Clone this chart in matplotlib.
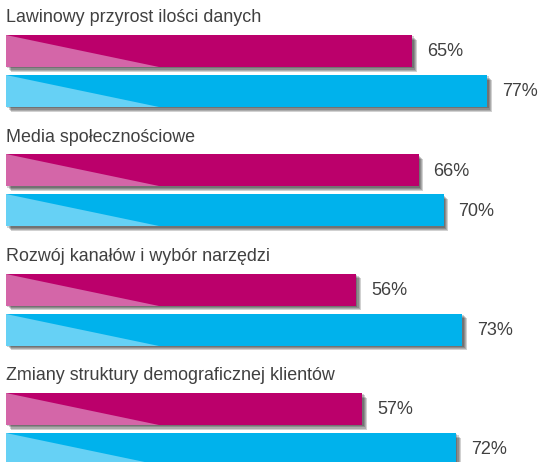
import matplotlib
matplotlib.use("Agg")
import matplotlib.pyplot as plt
import matplotlib.patheffects as pe
from matplotlib.patches import Polygon

# data
categories = ['Lawinowy przyrost ilości danych',
              'Media społecznościowe',
              'Rozwój kanałów i wybór narzędzi',
              'Zmiany struktury demograficznej klientów']
series_a = [65, 66, 56, 57]   # magenta
series_b = [77, 70, 73, 72]   # cyan

dark = ['#BB006B', '#00B2EC']
light = ['#D466A8', '#66D1F5']
text_col = '#404040'

# layout (pixel-like units on y, percent on x)
W, H = 541, 462
x0_px, px_per_pct = 6, 6.25
group_step = 119.3
title_off, bar_off, bar_gap, bar_h = 18, 51, 40, 32
tri_w = 24.5

fig = plt.figure(figsize=(W / 100, H / 100), dpi=100)
ax = fig.add_axes([0, 0, 1, 1])
ax.set_xlim(-x0_px / px_per_pct, (W - x0_px) / px_per_pct)
ax.set_ylim(H, 0)
ax.axis('off')

font = dict(family=['Liberation Sans', 'DejaVu Sans'], color=text_col)

shadow = [pe.SimplePatchShadow(offset=(o, -o), shadow_rgbFace='k', alpha=0.18) for o in (1, 1.8, 2.6, 3.4)]
shadow.append(pe.Normal())

for i, cat in enumerate(categories):
    base = i * group_step
    ax.text(0, base + title_off, cat, fontsize=12.9, va='center', ha='left', **font)
    for j, val in enumerate([series_a[i], series_b[i]]):
        yc = base + bar_off + j * bar_gap
        bars = ax.barh(yc, val, height=bar_h, left=0, color=dark[j], zorder=2)
        bars[0].set_path_effects(shadow)
        top, bot = yc - bar_h / 2, yc + bar_h / 2
        tri = Polygon([(0, top), (0, bot), (tri_w, bot)], closed=True,
                      facecolor=light[j], edgecolor='none', zorder=3)
        ax.add_patch(tri)
        ax.text(val + 2.4, yc + 1, f'{val}%', fontsize=13, va='center', ha='left', **font)

fig.savefig('out.png', dpi=100)
